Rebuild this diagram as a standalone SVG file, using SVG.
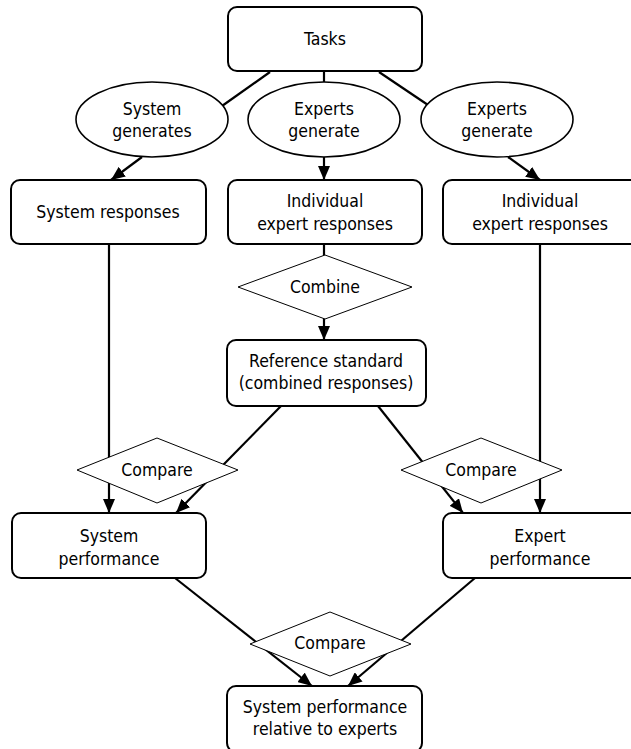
<svg xmlns="http://www.w3.org/2000/svg" width="631" height="749" viewBox="0 0 631 749">
<style>
.box{fill:#fff;stroke:#000;stroke-width:2}
.ell{fill:#fff;stroke:#000;stroke-width:1.6}
.dia{fill:#fff;stroke:#000;stroke-width:1}
.ln{fill:none;stroke:#000;stroke-width:2.2}
.arr{fill:none;stroke:#000;stroke-width:2.2;marker-end:url(#ah)}
text{font-family:"DejaVu Sans Condensed","DejaVu Sans",sans-serif;font-size:17.5px;fill:#000;text-anchor:middle}
</style>
<defs>
<marker id="ah" markerUnits="userSpaceOnUse" markerWidth="14" markerHeight="12" refX="14" refY="6" orient="auto">
<path d="M0,0 L14,6 L0,12 z" fill="#000"/>
</marker>
</defs>
<rect width="631" height="749" fill="#fff"/>
<g id="connectors">
<line class="ln" x1="270" y1="72" x2="222" y2="106"/>
<line class="ln" x1="324" y1="72" x2="324" y2="82"/>
<line class="ln" x1="379" y1="72" x2="428" y2="105"/>
<line class="arr" x1="142" y1="157" x2="111" y2="180"/>
<line class="arr" x1="324" y1="157" x2="324" y2="180"/>
<line class="arr" x1="508" y1="157" x2="540" y2="180"/>
<line class="ln" x1="324" y1="244" x2="324" y2="256"/>
<line class="arr" x1="324" y1="318" x2="324" y2="340"/>
<line class="arr" x1="109" y1="244" x2="109" y2="513"/>
<line class="arr" x1="540" y1="244" x2="540" y2="513"/>
<line class="arr" x1="281" y1="406" x2="176" y2="513"/>
<line class="arr" x1="378" y1="406" x2="463" y2="513"/>
<line class="arr" x1="175" y1="578" x2="312" y2="686"/>
<line class="arr" x1="475" y1="578" x2="348" y2="686"/>
</g>
<g id="tasks">
<rect class="box" x="228" y="7" width="194" height="64" rx="9"/>
<text x="325" y="45">Tasks</text>
</g>
<g id="system-generates">
<ellipse class="ell" cx="152" cy="119.5" rx="76" ry="37.5"/>
<text x="152" y="115">System</text>
<text x="152" y="137">generates</text>
</g>
<g id="experts-generate-1">
<ellipse class="ell" cx="324" cy="119.5" rx="76" ry="37.5"/>
<text x="324" y="115">Experts</text>
<text x="324" y="137">generate</text>
</g>
<g id="experts-generate-2">
<ellipse class="ell" cx="497" cy="119.5" rx="76" ry="37.5"/>
<text x="497" y="115">Experts</text>
<text x="497" y="137">generate</text>
</g>
<g id="system-responses">
<rect class="box" x="11" y="180" width="195" height="64" rx="9"/>
<text x="108" y="218">System responses</text>
</g>
<g id="individual-expert-responses-1">
<rect class="box" x="228" y="180" width="194" height="64" rx="9"/>
<text x="325" y="207">Individual</text>
<text x="325" y="230">expert responses</text>
</g>
<g id="individual-expert-responses-2">
<rect class="box" x="443" y="180" width="196" height="64" rx="9"/>
<text x="540" y="207">Individual</text>
<text x="540" y="230">expert responses</text>
</g>
<g id="combine">
<polygon class="dia" points="325,255 412,287 325,319 238,287"/>
<text x="325" y="293">Combine</text>
</g>
<g id="reference-standard">
<rect class="box" x="227" y="340" width="199" height="66" rx="9"/>
<text x="326" y="367">Reference standard</text>
<text x="326" y="389">(combined responses)</text>
</g>
<g id="compare-left">
<polygon class="dia" points="157,438 238,470 157,503 77,470"/>
<text x="157" y="476">Compare</text>
</g>
<g id="compare-right">
<polygon class="dia" points="481,438 562,470 481,503 401,470"/>
<text x="481" y="476">Compare</text>
</g>
<g id="system-performance">
<rect class="box" x="12" y="513" width="194" height="65" rx="9"/>
<text x="109" y="542">System</text>
<text x="109" y="565">performance</text>
</g>
<g id="expert-performance">
<rect class="box" x="443" y="513" width="196" height="65" rx="9"/>
<text x="540" y="542">Expert</text>
<text x="540" y="565">performance</text>
</g>
<g id="compare-bottom">
<polygon class="dia" points="330,612 411,644 330,676 250,644"/>
<text x="330" y="649">Compare</text>
</g>
<g id="system-performance-relative">
<rect class="box" x="227" y="686" width="195" height="66" rx="9"/>
<text x="325" y="713">System performance</text>
<text x="325" y="735">relative to experts</text>
</g>
</svg>
